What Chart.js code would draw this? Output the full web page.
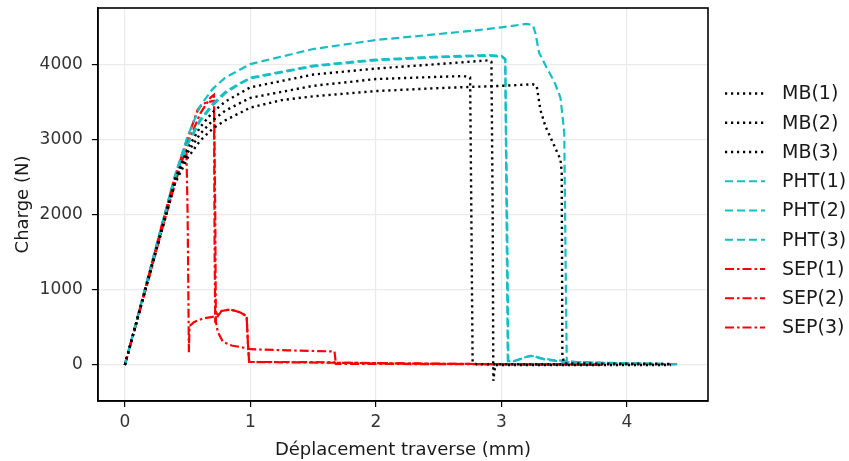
<!DOCTYPE html>
<html>
<head>
<meta charset="utf-8">
<script src="https://cdn.jsdelivr.net/npm/chart.js@4"></script>
<style>
  html, body { margin: 0; padding: 0; background: #fff; }
  #wrap { width: 849px; height: 461px; }
</style>
</head>
<body>
<div id="wrap"><canvas id="myChart" width="849" height="461"></canvas></div>
<script>
// Load curves: displacement (mm) and charge (N)
var seriesNames = ['MB(1)', 'MB(2)', 'MB(3)', 'PHT(1)', 'PHT(2)', 'PHT(3)', 'SEP(1)', 'SEP(2)', 'SEP(3)'];
var xTicks = [0, 1, 2, 3, 4];
var yTicks = [0, 1000, 2000, 3000, 4000];

var mb1X = [0, 0.2, 0.4, 0.5, 0.6, 0.7, 0.8, 1.0, 1.5, 2.0, 2.5, 2.9, 2.92, 2.93, 2.935, 2.95, 3.5, 4.35];
var mb1Y = [0, 1240, 2480, 2880, 3170, 3370, 3510, 3700, 3870, 3950, 4010, 4060, 4040, 2000, -210, 0, 0, 0];

var mb2X = [0, 0.2, 0.4, 0.5, 0.6, 0.7, 0.8, 1.0, 1.5, 2.0, 2.5, 2.7, 2.75, 2.76, 2.77, 2.8, 4.35];
var mb2Y = [0, 1230, 2450, 2830, 3080, 3260, 3390, 3560, 3720, 3810, 3840, 3850, 3830, 2000, 30, 10, 10];

var mb3X = [0, 0.2, 0.4, 0.5, 0.6, 0.7, 0.8, 1.0, 1.25, 1.5, 2.0, 2.5, 3.0, 3.25, 3.28, 3.31, 3.35, 3.41, 3.47, 3.48, 3.485, 3.5, 4.35];
var mb3Y = [0, 1220, 2420, 2760, 2990, 3150, 3260, 3430, 3530, 3580, 3650, 3690, 3720, 3740, 3720, 3400, 3180, 2960, 2740, 2560, 120, 20, 15];

var pht1X = [0, 0.2, 0.4, 0.5, 0.6, 0.7, 0.8, 1.0, 1.5, 2.0, 2.5, 2.8, 3.0, 3.2, 3.25, 3.27, 3.3, 3.36, 3.42, 3.47, 3.5, 3.51, 3.52, 3.8, 4.4];
var pht1Y = [0, 1270, 2530, 3050, 3450, 3680, 3830, 4010, 4210, 4330, 4410, 4460, 4500, 4545, 4530, 4420, 4160, 3960, 3780, 3560, 3100, 1500, 40, 30, 10];

var pht2X = [0, 0.2, 0.4, 0.5, 0.6, 0.7, 0.8, 0.9, 1.0, 1.5, 2.0, 2.5, 2.9, 3.0, 3.03, 3.04, 3.05, 3.1, 3.18, 3.25, 3.3, 3.4, 3.6, 4.0, 4.4];
var pht2Y = [0, 1260, 2510, 2950, 3270, 3480, 3640, 3740, 3830, 3990, 4070, 4110, 4130, 4120, 4080, 2000, 60, 50, 100, 130, 90, 70, 40, 20, 10];

var pht3X = [0, 0.2, 0.4, 0.5, 0.6, 0.7, 0.8, 0.9, 1.0, 1.5, 2.0, 2.5, 2.9, 3.0, 3.03, 3.045, 3.055, 3.12, 3.2, 3.26, 3.35, 3.5, 3.8, 4.4];
var pht3Y = [0, 1255, 2500, 2940, 3250, 3460, 3620, 3730, 3820, 3980, 4060, 4100, 4120, 4110, 4070, 2000, 50, 60, 110, 120, 70, 40, 25, 10];

var sep1X = [0, 0.1, 0.2, 0.3, 0.4, 0.47, 0.49, 0.5, 0.51, 0.515, 0.55, 0.62, 0.7, 0.77, 0.84, 0.92, 0.97, 0.98, 0.99, 1.3, 1.67, 1.68, 3.0, 3.8];
var sep1Y = [0, 620, 1240, 1870, 2480, 2840, 2880, 2000, 170, 520, 570, 620, 640, 720, 740, 700, 650, 300, 40, 40, 35, 15, 10, 5];

var sep2X = [0, 0.1, 0.2, 0.3, 0.4, 0.5, 0.6, 0.68, 0.71, 0.72, 0.725, 0.74, 0.78, 0.85, 0.95, 1.0, 1.3, 1.67, 1.68, 2.5, 3.8];
var sep2Y = [0, 600, 1210, 1830, 2420, 2950, 3350, 3560, 3600, 2000, 580, 440, 310, 260, 230, 210, 195, 180, 30, 15, 5];

var sep3X = [0, 0.1, 0.2, 0.3, 0.4, 0.5, 0.58, 0.62, 0.68, 0.71, 0.715, 0.72, 0.77, 0.84, 0.92, 0.97, 0.98, 0.99, 1.67, 3.0, 3.8];
var sep3Y = [0, 630, 1260, 1900, 2520, 3020, 3400, 3480, 3510, 3520, 1500, 600, 720, 740, 700, 650, 300, 40, 30, 10, 5];

var allX = [mb1X, mb2X, mb3X, pht1X, pht2X, pht3X, sep1X, sep2X, sep3X];
var allY = [mb1Y, mb2Y, mb3Y, pht1Y, pht2Y, pht3Y, sep1Y, sep2Y, sep3Y];

var BLACK = '#000000', CYAN = '#17bfc4', RED = '#ff0000';
var styles = [
	{ color: BLACK, dash: [2.2, 3.8], width: 2.4 },
	{ color: BLACK, dash: [2.2, 3.8], width: 2.4 },
	{ color: BLACK, dash: [2.2, 3.8], width: 2.4 },
	{ color: CYAN, dash: [8, 4], width: 2.2 },
	{ color: CYAN, dash: [8, 4], width: 2.2 },
	{ color: CYAN, dash: [8, 4], width: 2.2 },
	{ color: RED, dash: [9, 3, 2.5, 3], width: 2.2 },
	{ color: RED, dash: [9, 3, 2.5, 3], width: 2.2 },
	{ color: RED, dash: [9, 3, 2.5, 3], width: 2.2 }
];

var datasets = seriesNames.map(function (name, i) {
	return {
		label: name,
		data: allX[i].map(function (x, j) { return { x: x, y: allY[i][j] }; }),
		showLine: true,
		borderColor: styles[i].color,
		backgroundColor: styles[i].color,
		borderDash: styles[i].dash,
		borderWidth: styles[i].width,
		pointRadius: 0,
		tension: 0,
		fill: false
	};
});

// draw the full frame round the plot area
var frame = {
	id: 'frame',
	afterDraw: function (chart) {
		var a = chart.chartArea, c = chart.ctx;
		c.save();
		c.strokeStyle = '#000';
		c.lineWidth = 1.6;
		c.strokeRect(a.left, a.top, a.right - a.left, a.bottom - a.top);
		c.restore();
	}
};

// legend on the right, drawn by hand so the dashes show
var sideLegend = {
	id: 'sideLegend',
	afterDraw: function (chart) {
		var a = chart.chartArea, c = chart.ctx;
		var step = 29.25;
		var mid = (a.top + a.bottom) / 2 + 6;
		var x0 = a.right + 17;
		c.save();
		chart.data.datasets.forEach(function (ds, i) {
			var y = mid + (i - 4) * step;
			c.strokeStyle = ds.borderColor;
			c.lineWidth = ds.borderWidth;
			c.setLineDash(ds.borderDash);
			c.beginPath();
			c.moveTo(x0, y);
			c.lineTo(x0 + 40, y);
			c.stroke();
			c.setLineDash([]);
			c.fillStyle = '#1a1a1a';
			c.font = '19px "DejaVu Sans"';
			c.textBaseline = 'middle';
			c.fillText(ds.label, x0 + 57, y + 1);
		});
		c.restore();
	}
};

var tickFont = { family: 'DejaVu Sans', size: 17 };
var titleFont = { family: 'DejaVu Sans', size: 18 };

var ctx = document.getElementById('myChart').getContext('2d');
var myChart = new Chart(ctx, {
	type: 'scatter',
	data: { datasets: datasets },
	plugins: [frame, sideLegend],
	options: {
		responsive: false,
		animation: false,
		layout: { padding: { left: 8, right: 141, top: 8, bottom: 0 } },
		plugins: {
			tooltip: { enabled: false },
			legend: { display: false }
		},
		scales: {
			x: {
				type: 'linear',
				min: -0.215,
				max: 4.645,
				afterBuildTicks: function (axis) { axis.ticks = xTicks.map(function (v) { return { value: v }; }); },
				ticks: { color: '#333', font: tickFont, padding: 5, callback: function (v) { return String(v); } },
				grid: { color: '#ebebeb', lineWidth: 1.2, tickColor: '#000', tickLength: 6 },
				border: { color: '#000', width: 1.6 },
				title: { display: true, text: 'Déplacement traverse (mm)', color: '#1a1a1a', font: titleFont, padding: { top: 2, bottom: 0 } }
			},
			y: {
				type: 'linear',
				min: -480,
				max: 4757,
				afterBuildTicks: function (axis) { axis.ticks = yTicks.map(function (v) { return { value: v }; }); },
				afterFit: function (axis) { axis.paddingTop = 0; axis.paddingBottom = 0; },
				ticks: { color: '#333', font: tickFont, padding: 9, callback: function (v) { return String(v); } },
				grid: { color: '#ebebeb', lineWidth: 1.2, tickColor: '#000', tickLength: 6 },
				border: { color: '#000', width: 1.6 },
				title: { display: true, text: 'Charge (N)', color: '#1a1a1a', font: titleFont, padding: { top: 5, bottom: -4 } }
			}
		}
	}
});
</script>
</body>
</html>
